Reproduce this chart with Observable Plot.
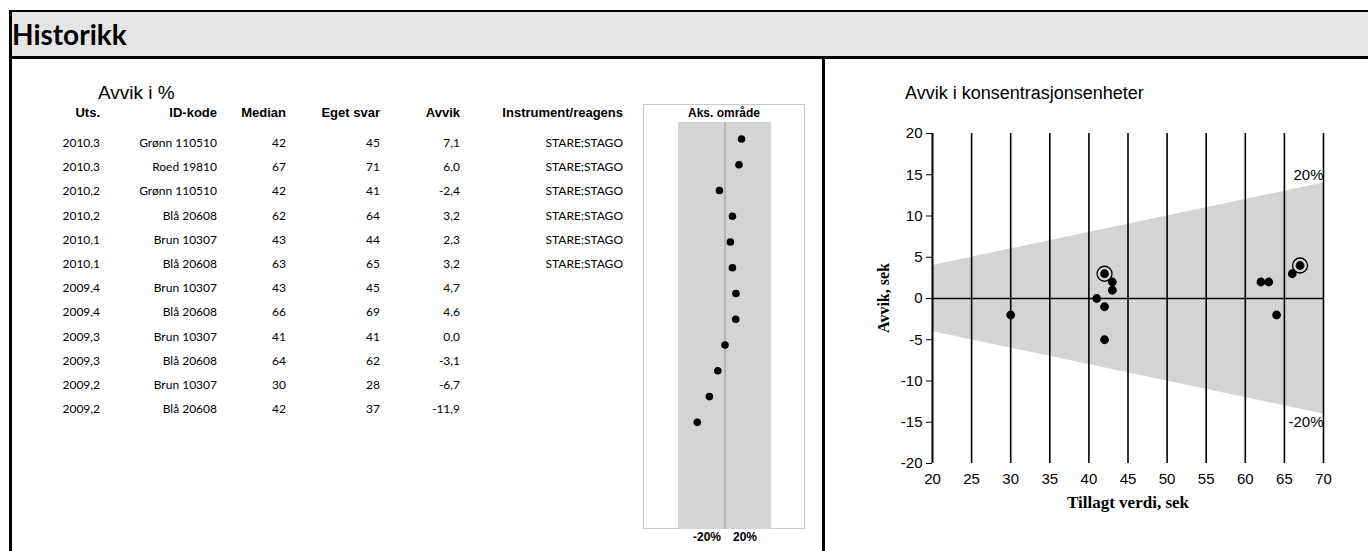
<!DOCTYPE html>
<html><head><meta charset="utf-8">
<script src="https://cdn.jsdelivr.net/npm/d3@7"></script>
<script src="https://cdn.jsdelivr.net/npm/@observablehq/plot@0.6"></script>
<style>
body{margin:0;background:#fff;}
#page{position:relative;width:1368px;height:551px;overflow:hidden;background:#fff;font-family:"Liberation Sans",Arial,sans-serif;color:#000;}
.abs{position:absolute;white-space:nowrap;}
.cell{position:absolute;white-space:nowrap;font-family:Lato,sans-serif;font-size:12px;line-height:14px;text-align:right;}
.hdr{position:absolute;white-space:nowrap;font-family:"Liberation Sans",Arial,sans-serif;font-weight:bold;font-size:13px;line-height:15px;text-align:right;}
svg{position:absolute;overflow:visible;}
</style></head><body><div id="page"></div>
<script>
// ---- data ----
const rounds = ["2010,3","2010,3","2010,2","2010,2","2010,1","2010,1","2009,4","2009,4","2009,3","2009,3","2009,2","2009,2"];
const idCodes = ["Grønn 110510","Roed 19810","Grønn 110510","Blå 20608","Brun 10307","Blå 20608","Brun 10307","Blå 20608","Brun 10307","Blå 20608","Brun 10307","Blå 20608"];
const medians = [42,67,42,62,43,63,43,66,41,64,30,42];
const ownResults = [45,71,41,64,44,65,45,69,41,62,28,37];
const deviationsPct = [7.1,6.0,-2.4,3.2,2.3,3.2,4.7,4.6,0.0,-3.1,-6.7,-11.9];
const instruments = ["STARE;STAGO","STARE;STAGO","STARE;STAGO","STARE;STAGO","STARE;STAGO","STARE;STAGO","","","","","",""];
const headers = ["Uts.","ID-kode","Median","Eget svar","Avvik","Instrument/reagens"];
const limitPct = 20;
const limitLabels = ["-20%","20%"];
const xTicks = [20,25,30,35,40,45,50,55,60,65,70];
const yTicks = [-20,-15,-10,-5,0,5,10,15,20];
const latestRound = "2010,3";

const rows = rounds.map((r,i)=>({i, round:r, id:idCodes[i], median:medians[i], own:ownResults[i], pct:deviationsPct[i], instr:instruments[i], dev:ownResults[i]-medians[i]}));
const fmt = v => v.toFixed(1).replace(".", ",");

const page = document.getElementById("page");
function el(cls, css, text){const d=document.createElement("div");d.className=cls;d.style.cssText=css;d.textContent=text;page.appendChild(d);return d;}

// frame & header
el("abs","left:9px;top:10px;width:1359px;height:2px;background:#000;","");
el("abs","left:11px;top:12px;width:1357px;height:45px;background:#e5e5e5;","");
el("abs","left:9px;top:56px;width:1359px;height:3px;background:#000;","");
el("abs","left:9px;top:10px;width:3px;height:541px;background:#000;","");
el("abs","left:822px;top:58px;width:3px;height:493px;background:#000;","");
el("abs","left:12px;top:17px;font-family:Lato,sans-serif;font-weight:bold;font-size:28px;line-height:34px;","Historikk");

// table
el("abs","left:98px;top:82px;font-size:19px;line-height:22px;","Avvik i %");
const colRight = [100,217,286,380,460,623];
headers.forEach((h,c)=>el("hdr",`right:${1368-colRight[c]}px;top:105px;`,h));
const cols = [r=>r.round, r=>r.id, r=>String(r.median), r=>String(r.own), r=>fmt(r.pct), r=>r.instr];
rows.forEach((r,k)=>{
  const yc = 143 + 24.2*k;
  cols.forEach((f,c)=>el("cell",`right:${1368-colRight[c]}px;top:${yc-7}px;`,f(r)));
});

// dot-plot box
el("abs","left:643px;top:104px;width:162px;height:425px;border:1px solid #c8c8c8;box-sizing:border-box;","");
el("abs","left:643px;top:106px;width:162px;text-align:center;font-weight:bold;font-size:12px;line-height:14px;","Aks. område");

const dotPlot = Plot.plot({
  width: 163, height: 441,
  marginTop: 18, marginBottom: 16, marginLeft: 0, marginRight: 0,
  x: {domain: [-35, 35], axis: null},
  y: {domain: [-0.64, 15.16], axis: null, reverse: true},
  style: {background: "transparent", fontFamily: "Liberation Sans, Arial, sans-serif"},
  marks: [
    Plot.rect([limitPct], {x1: d => -d, x2: d => d, fill: "#d4d4d4"}),
    Plot.ruleX([0], {stroke: "#a9a9a9", strokeWidth: 1.5}),
    Plot.dot(rows, {x: "pct", y: "i", r: 3.8, fill: "#000", stroke: "none"}),
    Plot.text([limitLabels[0]], {x: 0, frameAnchor: "bottom", dy: 11, dx: -4, textAnchor: "end", fontSize: 12, fontWeight: "bold", fill: "#000"}),
    Plot.text([limitLabels[1]], {x: 0, frameAnchor: "bottom", dy: 11, dx: 8, textAnchor: "start", fontSize: 12, fontWeight: "bold", fill: "#000"})
  ]
});
dotPlot.style.left = "643px"; dotPlot.style.top = "104px";
page.appendChild(dotPlot);

// scatter
el("abs","left:905px;top:82px;font-size:18px;line-height:22px;","Avvik i konsentrasjonsenheter");
const latest = rows.filter(r => r.round === latestRound);
const scatter = Plot.plot({
  width: 536, height: 410,
  marginLeft: 100, marginRight: 45, marginTop: 13, marginBottom: 67,
  x: {domain: [20, 70]},
  y: {domain: [-20, 20]},
  style: {background: "transparent", fontFamily: "Liberation Sans, Arial, sans-serif", fontSize: "15px", color: "#000"},
  marks: [
    Plot.areaY([xTicks[0], xTicks[xTicks.length-1]], {x: d => d, y1: d => -d*limitPct/100, y2: d => d*limitPct/100, fill: "#d4d4d4"}),
    Plot.ruleX(xTicks.slice(1), {stroke: "#000", strokeWidth: 1.6}),
    Plot.ruleX([xTicks[0]], {stroke: "#000", strokeWidth: 2}),
    Plot.ruleY([0], {stroke: "#000", strokeWidth: 1.5}),
    Plot.axisY({ticks: yTicks, tickFormat: d => String(d), tickSize: 6, tickPadding: 4, label: null, fontSize: 15, stroke: "#000", fill: "#000"}),
    Plot.axisX({ticks: xTicks, tickFormat: d => String(d), tickSize: 0, tickPadding: 10, label: null, fontSize: 15, fill: "#000"}),
    Plot.text([limitLabels[1]], {x: 70, y: 15, textAnchor: "end", fontSize: 15, fill: "#000"}),
    Plot.text([limitLabels[0]], {x: 70, y: -15, textAnchor: "end", fontSize: 15, fill: "#000"}),
    Plot.dot(rows, {x: "median", y: "dev", r: 4.4, fill: "#000", stroke: "none"}),
    Plot.dot(latest, {x: "median", y: "dev", r: 7.5, fill: "none", stroke: "#000", strokeWidth: 1.3})
  ]
});
scatter.style.left = "832px"; scatter.style.top = "120px";
page.appendChild(scatter);

el("abs","left:884px;top:298px;transform:translate(-50%,-50%) rotate(-90deg);font-family:'Liberation Serif','Times New Roman',serif;font-weight:bold;font-size:16px;line-height:18px;","Avvik, sek");
el("abs","left:1128px;top:502px;transform:translate(-50%,-50%);font-family:'Liberation Serif','Times New Roman',serif;font-weight:bold;font-size:17px;line-height:19px;","Tillagt verdi, sek");
</script></body></html>
